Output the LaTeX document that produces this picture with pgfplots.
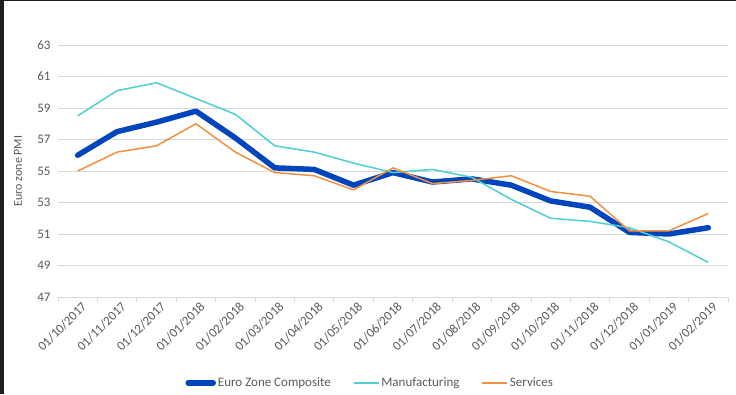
\documentclass[border=0pt]{standalone}
\usepackage{pgfplots}
\pgfplotsset{compat=1.18}
\usepackage{fontspec}
\setmainfont{Carlito}
\definecolor{comp}{HTML}{0045BC}
\definecolor{manu}{HTML}{4DCFD3}
\definecolor{serv}{HTML}{F2913D}
\definecolor{gridc}{HTML}{D9D9D9}
\definecolor{txt}{HTML}{595959}
\begin{document}
\begin{tikzpicture}
\useasboundingbox (0pt,0pt) rectangle (736pt,394pt);
\fill[black!88] (0pt,0pt) rectangle (4pt,394pt);
\fill[black!88] (0pt,393pt) rectangle (736pt,394pt);
\begin{axis}[
  at={(58pt,97pt)}, anchor=south west,
  scale only axis, width=670pt, height=252pt,
  xmin=-0.5, xmax=16.5, ymin=47, ymax=63,
  ytick={47,49,...,63},
  xtick={0,...,16},
  xticklabels={01/10/2017,01/11/2017,01/12/2017,01/01/2018,01/02/2018,01/03/2018,01/04/2018,01/05/2018,01/06/2018,01/07/2018,01/08/2018,01/09/2018,01/10/2018,01/11/2018,01/12/2018,01/01/2019,01/02/2019},
  minor xtick={-0.5,0.5,...,16.5},
  major tick length=0pt,
  minor tick length=5pt,
  xtick align=outside,
  minor tick style={draw=gridc, line width=0.8pt},
  axis x line*=bottom,
  axis y line*=left,
  x axis line style={draw=gridc, line width=0.8pt, -},
  y axis line style={draw=none},
  ymajorgrids=true,
  major grid style={draw=gridc, line width=0.8pt},
  /pgf/number format/assume math mode=true,
  tick label style={font=\fontsize{13}{15}\selectfont, text=txt},
  yticklabel style={xshift=-4pt},
  xticklabel style={rotate=45, anchor=east, yshift=-10pt, xshift=3pt},
  ylabel={Euro zone PMI},
  ylabel style={font=\fontsize{12}{14}\selectfont, text=txt, at={(axis description cs:-0.0597,0.5)}, anchor=center},
  legend style={at={(0.466,-0.341)}, anchor=center, draw=none, fill=none, legend columns=3,
    font=\fontsize{13}{15}\selectfont, text=txt,
    /tikz/every even column/.append style={column sep=20pt}},
  legend image code/.code={\draw[#1] (0pt,0pt) -- (25pt,0pt);},
]
\addplot[comp, line width=5.5pt, line join=round, line cap=round] coordinates {
(0,56.0)(1,57.5)(2,58.1)(3,58.8)(4,57.1)(5,55.2)(6,55.1)(7,54.1)(8,54.9)(9,54.3)(10,54.5)(11,54.1)(12,53.1)(13,52.7)(14,51.1)(15,51.0)(16,51.4)};
\addlegendentry{Euro Zone Composite}
\addplot[manu, line width=1.5pt, line join=round] coordinates {
(0,58.5)(1,60.1)(2,60.6)(3,59.6)(4,58.6)(5,56.6)(6,56.2)(7,55.5)(8,54.9)(9,55.1)(10,54.6)(11,53.2)(12,52.0)(13,51.8)(14,51.4)(15,50.5)(16,49.2)};
\addlegendentry{Manufacturing}
\addplot[serv, line width=1.5pt, line join=round] coordinates {
(0,55.0)(1,56.2)(2,56.6)(3,58.0)(4,56.2)(5,54.9)(6,54.7)(7,53.8)(8,55.2)(9,54.2)(10,54.4)(11,54.7)(12,53.7)(13,53.4)(14,51.2)(15,51.2)(16,52.3)};
\addlegendentry{Services}
\end{axis}
\end{tikzpicture}
\end{document}
